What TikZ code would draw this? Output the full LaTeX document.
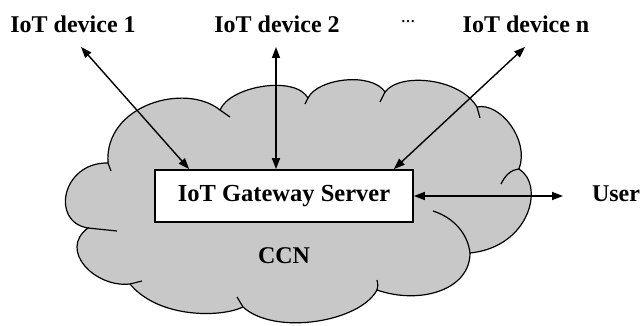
\documentclass[tikz,border=0pt]{standalone}
\usepackage{fontspec}
\setmainfont{Liberation Serif}
\usetikzlibrary{arrows.meta}
\definecolor{cloudfill}{RGB}{200,200,200}
\tikzset{
  cloudline/.style={draw=black, line width=1.2pt},
  link/.style={line width=1.4pt,
    {Triangle[length=11pt,width=8pt]}-{Triangle[length=11pt,width=8pt]}},
  lbl/.style={font=\bfseries\fontsize{24}{28}\selectfont, inner sep=0pt, anchor=base},
  gwbox/.style={draw, line width=1.8pt, fill=white, minimum width=258pt,
    minimum height=52pt, inner sep=0pt, font=\bfseries\fontsize{24.5}{28}\selectfont},
}
\begin{document}
\begin{tikzpicture}[x=1pt, y=-1pt]
\useasboundingbox (0,0) rectangle (643,326);

% cloud outline
\path[cloudline, fill=cloudfill]
  (108,163) .. controls (104,105) and (185,82) .. (220,110)
  .. controls (230,86) and (295,75) .. (308,98)
  .. controls (318,78) and (372,72) .. (385,92)
  .. controls (400,72) and (460,78) .. (477,107)
  .. controls (500,102) and (530,140) .. (519,169)
  .. controls (545,185) and (530,247) .. (470,253)
  .. controls (470,290) and (420,305) .. (377,290)
  .. controls (360,322) and (275,336) .. (243,307)
  .. controls (220,318) and (158,318) .. (130,284)
  .. controls (95,288) and (58,250) .. (88,228)
  .. controls (50,222) and (62,162) .. (108,163) -- cycle;

% inner folds of the cloud
\draw[cloudline] (108,163) .. controls (109,167) .. (111,171);
\draw[cloudline] (220,110) .. controls (225,113) .. (230,117);
\draw[cloudline] (308,98) .. controls (306,101) .. (305,104);
\draw[cloudline] (385,92) .. controls (382,97) .. (380,102);
\draw[cloudline] (477,107) .. controls (479,112) .. (480,118);
\draw[cloudline] (519,169) .. controls (510,170) and (505,176) .. (501,184);
\draw[cloudline] (470,253) .. controls (468,235) and (455,218) .. (433,211);
\draw[cloudline] (377,290) .. controls (378,285) .. (377,280);
\draw[cloudline] (243,307) .. controls (240,302) .. (237,297);
\draw[cloudline] (130,284) .. controls (136,282) .. (142,281);
\draw[cloudline] (88,228) .. controls (102,229) .. (117,231);

% gateway
\node[gwbox] (gw) at (284,196) {IoT Gateway Server};

% labels
\node[lbl] (d1) at (73,33) {IoT device 1};
\node[lbl] (d2) at (277,33) {IoT device 2};
\node[font=\bfseries\fontsize{14}{16}\selectfont, inner sep=0pt] (dots) at (408,22) {…};
\node[lbl] (dn) at (526,33) {IoT device n};
\node[lbl] (ccn) at (284,263) {CCN};
\node[lbl] (user) at (616,202) {User};

% arrow ends
\coordinate (t1) at (81,47);
\coordinate (t2) at (276,47);
\coordinate (tn) at (525,47);
\coordinate (u) at (563,196);

% connectors
\draw[link] (t1) -- ([xshift=35pt]gw.north west);
\draw[link] (t2) -- (gw.north -| t2);
\draw[link] (tn) -- ([xshift=-20pt]gw.north east);
\draw[link] (gw.east) -- (u);
\end{tikzpicture}
\end{document}
